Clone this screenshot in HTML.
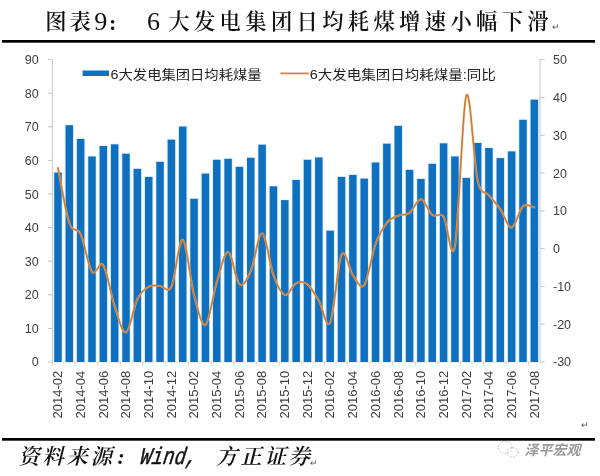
<!DOCTYPE html>
<html lang="zh-CN"><head><meta charset="utf-8"><title>图表9</title>
<style>html,body{margin:0;padding:0;background:#fff}svg{display:block}</style></head>
<body>
<svg width="600" height="476" viewBox="0 0 600 476">
<rect width="600" height="476" fill="#fff"/>
<rect x="2" y="40" width="593" height="2.7" fill="#000"/>
<rect x="2" y="438" width="593" height="2.7" fill="#000"/>
<text x="45.3" y="28.6" font-family='"Liberation Serif","Noto Serif CJK SC",serif' font-size="21.3" fill="#111" font-weight="600">图</text>
<text x="69.6" y="28.6" font-family='"Liberation Serif","Noto Serif CJK SC",serif' font-size="21.3" fill="#111" font-weight="600">表</text>
<text x="94.3" y="29.8" font-family='"Liberation Serif","Noto Serif CJK SC",serif' font-size="26" fill="#111">9</text>
<text x="109" y="29.6" font-family='"Liberation Serif","Noto Serif CJK SC",serif' font-size="22" fill="#111" font-weight="700">:</text>
<text x="147" y="29.8" font-family='"Liberation Serif","Noto Serif CJK SC",serif' font-size="26" fill="#111">6</text>
<text x="168.3 194.0 219.6 245.3 270.9 296.6 322.2 347.8 373.5 399.1 424.8 450.4 476.0 501.7 527.3" y="28.6" font-family='"Liberation Serif","Noto Serif CJK SC",serif' font-size="21.3" fill="#111" font-weight="600">大发电集团日均耗煤增速小幅下滑</text>
<text x="552" y="30" font-family='"Liberation Sans","Noto Sans CJK SC",sans-serif' font-size="9" fill="#555">↵</text>
<g stroke="#c6c6c6" stroke-width="1" fill="none">
<path d="M52.3 59.2V362.0"/>
<path d="M540.0 59.2V362.0"/>
<path d="M47.8 362.00H52.3"/>
<path d="M47.8 328.41H52.3"/>
<path d="M47.8 294.82H52.3"/>
<path d="M47.8 261.23H52.3"/>
<path d="M47.8 227.64H52.3"/>
<path d="M47.8 194.06H52.3"/>
<path d="M47.8 160.47H52.3"/>
<path d="M47.8 126.88H52.3"/>
<path d="M47.8 93.29H52.3"/>
<path d="M47.8 59.70H52.3"/>
<path d="M540.0 59.70H544.5"/>
<path d="M540.0 97.49H544.5"/>
<path d="M540.0 135.28H544.5"/>
<path d="M540.0 173.06H544.5"/>
<path d="M540.0 210.85H544.5"/>
<path d="M540.0 248.64H544.5"/>
<path d="M540.0 286.43H544.5"/>
<path d="M540.0 324.21H544.5"/>
<path d="M540.0 362.00H544.5"/>
</g>
<path d="M52.3 362.0H540.0" stroke="#e8dccf" stroke-width="1"/>
<g stroke="#f2c9a8" stroke-width="1">
<path d="M52.30 362.0V365.5"/>
<path d="M74.98 362.0V365.5"/>
<path d="M97.67 362.0V365.5"/>
<path d="M120.35 362.0V365.5"/>
<path d="M143.03 362.0V365.5"/>
<path d="M165.72 362.0V365.5"/>
<path d="M188.40 362.0V365.5"/>
<path d="M211.09 362.0V365.5"/>
<path d="M233.77 362.0V365.5"/>
<path d="M256.45 362.0V365.5"/>
<path d="M279.14 362.0V365.5"/>
<path d="M301.82 362.0V365.5"/>
<path d="M324.50 362.0V365.5"/>
<path d="M347.19 362.0V365.5"/>
<path d="M369.87 362.0V365.5"/>
<path d="M392.56 362.0V365.5"/>
<path d="M415.24 362.0V365.5"/>
<path d="M437.92 362.0V365.5"/>
<path d="M460.61 362.0V365.5"/>
<path d="M483.29 362.0V365.5"/>
<path d="M505.97 362.0V365.5"/>
<path d="M528.66 362.0V365.5"/>
</g>
<g font-family='"Liberation Sans","Noto Sans CJK SC",sans-serif' font-size="12.5" fill="#3e3e3e">
<text x="38.6" y="366.4" text-anchor="end">0</text>
<text x="38.6" y="332.8" text-anchor="end">10</text>
<text x="38.6" y="299.2" text-anchor="end">20</text>
<text x="38.6" y="265.6" text-anchor="end">30</text>
<text x="38.6" y="232.0" text-anchor="end">40</text>
<text x="38.6" y="198.5" text-anchor="end">50</text>
<text x="38.6" y="164.9" text-anchor="end">60</text>
<text x="38.6" y="131.3" text-anchor="end">70</text>
<text x="38.6" y="97.7" text-anchor="end">80</text>
<text x="38.6" y="64.1" text-anchor="end">90</text>
<text x="553" y="64.1">50</text>
<text x="553" y="101.9">40</text>
<text x="553" y="139.7">30</text>
<text x="553" y="177.5">20</text>
<text x="553" y="215.3">10</text>
<text x="553" y="253.0">0</text>
<text x="553" y="290.8">-10</text>
<text x="553" y="328.6">-20</text>
<text x="553" y="366.4">-30</text>
<text font-size="13" transform="translate(62.27 418.4) rotate(-90)">2014-02</text>
<text font-size="13" transform="translate(84.95 418.4) rotate(-90)">2014-04</text>
<text font-size="13" transform="translate(107.64 418.4) rotate(-90)">2014-06</text>
<text font-size="13" transform="translate(130.32 418.4) rotate(-90)">2014-08</text>
<text font-size="13" transform="translate(153.01 418.4) rotate(-90)">2014-10</text>
<text font-size="13" transform="translate(175.69 418.4) rotate(-90)">2014-12</text>
<text font-size="13" transform="translate(198.37 418.4) rotate(-90)">2015-02</text>
<text font-size="13" transform="translate(221.06 418.4) rotate(-90)">2015-04</text>
<text font-size="13" transform="translate(243.74 418.4) rotate(-90)">2015-06</text>
<text font-size="13" transform="translate(266.42 418.4) rotate(-90)">2015-08</text>
<text font-size="13" transform="translate(289.11 418.4) rotate(-90)">2015-10</text>
<text font-size="13" transform="translate(311.79 418.4) rotate(-90)">2015-12</text>
<text font-size="13" transform="translate(334.48 418.4) rotate(-90)">2016-02</text>
<text font-size="13" transform="translate(357.16 418.4) rotate(-90)">2016-04</text>
<text font-size="13" transform="translate(379.84 418.4) rotate(-90)">2016-06</text>
<text font-size="13" transform="translate(402.53 418.4) rotate(-90)">2016-08</text>
<text font-size="13" transform="translate(425.21 418.4) rotate(-90)">2016-10</text>
<text font-size="13" transform="translate(447.89 418.4) rotate(-90)">2016-12</text>
<text font-size="13" transform="translate(470.58 418.4) rotate(-90)">2017-02</text>
<text font-size="13" transform="translate(493.26 418.4) rotate(-90)">2017-04</text>
<text font-size="13" transform="translate(515.95 418.4) rotate(-90)">2017-06</text>
<text font-size="13" transform="translate(538.63 418.4) rotate(-90)">2017-08</text>
</g>
<g fill="#d9ecfb" fill-opacity="0.75">
<rect x="53.12" y="171.76" width="9.7" height="190.24"/>
<rect x="64.46" y="124.40" width="9.7" height="237.60"/>
<rect x="75.80" y="138.17" width="9.7" height="223.83"/>
<rect x="87.15" y="155.64" width="9.7" height="206.36"/>
<rect x="98.49" y="145.22" width="9.7" height="216.78"/>
<rect x="109.83" y="143.54" width="9.7" height="218.46"/>
<rect x="121.17" y="152.95" width="9.7" height="209.05"/>
<rect x="132.51" y="168.06" width="9.7" height="193.94"/>
<rect x="143.86" y="176.13" width="9.7" height="185.87"/>
<rect x="155.20" y="161.01" width="9.7" height="200.99"/>
<rect x="166.54" y="138.84" width="9.7" height="223.16"/>
<rect x="177.88" y="125.74" width="9.7" height="236.26"/>
<rect x="189.22" y="197.96" width="9.7" height="164.04"/>
<rect x="200.57" y="172.77" width="9.7" height="189.23"/>
<rect x="211.91" y="158.99" width="9.7" height="203.01"/>
<rect x="223.25" y="157.99" width="9.7" height="204.01"/>
<rect x="234.59" y="166.05" width="9.7" height="195.95"/>
<rect x="245.93" y="156.98" width="9.7" height="205.02"/>
<rect x="257.27" y="143.88" width="9.7" height="218.12"/>
<rect x="268.62" y="185.53" width="9.7" height="176.47"/>
<rect x="279.96" y="199.30" width="9.7" height="162.70"/>
<rect x="291.30" y="179.15" width="9.7" height="182.85"/>
<rect x="302.64" y="158.99" width="9.7" height="203.01"/>
<rect x="313.98" y="156.64" width="9.7" height="205.36"/>
<rect x="325.33" y="229.87" width="9.7" height="132.13"/>
<rect x="336.67" y="176.13" width="9.7" height="185.87"/>
<rect x="348.01" y="174.11" width="9.7" height="187.89"/>
<rect x="359.35" y="177.80" width="9.7" height="184.20"/>
<rect x="370.69" y="161.68" width="9.7" height="200.32"/>
<rect x="382.03" y="142.87" width="9.7" height="219.13"/>
<rect x="393.38" y="125.07" width="9.7" height="236.93"/>
<rect x="404.72" y="169.07" width="9.7" height="192.93"/>
<rect x="416.06" y="178.14" width="9.7" height="183.86"/>
<rect x="427.40" y="163.03" width="9.7" height="198.97"/>
<rect x="438.74" y="142.54" width="9.7" height="219.46"/>
<rect x="450.09" y="155.64" width="9.7" height="206.36"/>
<rect x="461.43" y="177.13" width="9.7" height="184.87"/>
<rect x="472.77" y="142.20" width="9.7" height="219.80"/>
<rect x="484.11" y="147.24" width="9.7" height="214.76"/>
<rect x="495.45" y="157.32" width="9.7" height="204.68"/>
<rect x="506.80" y="150.60" width="9.7" height="211.40"/>
<rect x="518.14" y="119.02" width="9.7" height="242.98"/>
<rect x="529.48" y="98.87" width="9.7" height="263.13"/>
</g>
<g fill="#1070c0">
<rect x="54.22" y="172.56" width="7.5" height="189.44"/>
<rect x="65.56" y="125.20" width="7.5" height="236.80"/>
<rect x="76.90" y="138.97" width="7.5" height="223.03"/>
<rect x="88.25" y="156.44" width="7.5" height="205.56"/>
<rect x="99.59" y="146.02" width="7.5" height="215.98"/>
<rect x="110.93" y="144.34" width="7.5" height="217.66"/>
<rect x="122.27" y="153.75" width="7.5" height="208.25"/>
<rect x="133.61" y="168.86" width="7.5" height="193.14"/>
<rect x="144.96" y="176.93" width="7.5" height="185.07"/>
<rect x="156.30" y="161.81" width="7.5" height="200.19"/>
<rect x="167.64" y="139.64" width="7.5" height="222.36"/>
<rect x="178.98" y="126.54" width="7.5" height="235.46"/>
<rect x="190.32" y="198.76" width="7.5" height="163.24"/>
<rect x="201.67" y="173.57" width="7.5" height="188.43"/>
<rect x="213.01" y="159.79" width="7.5" height="202.21"/>
<rect x="224.35" y="158.79" width="7.5" height="203.21"/>
<rect x="235.69" y="166.85" width="7.5" height="195.15"/>
<rect x="247.03" y="157.78" width="7.5" height="204.22"/>
<rect x="258.37" y="144.68" width="7.5" height="217.32"/>
<rect x="269.72" y="186.33" width="7.5" height="175.67"/>
<rect x="281.06" y="200.10" width="7.5" height="161.90"/>
<rect x="292.40" y="179.95" width="7.5" height="182.05"/>
<rect x="303.74" y="159.79" width="7.5" height="202.21"/>
<rect x="315.08" y="157.44" width="7.5" height="204.56"/>
<rect x="326.43" y="230.67" width="7.5" height="131.33"/>
<rect x="337.77" y="176.93" width="7.5" height="185.07"/>
<rect x="349.11" y="174.91" width="7.5" height="187.09"/>
<rect x="360.45" y="178.60" width="7.5" height="183.40"/>
<rect x="371.79" y="162.48" width="7.5" height="199.52"/>
<rect x="383.13" y="143.67" width="7.5" height="218.33"/>
<rect x="394.48" y="125.87" width="7.5" height="236.13"/>
<rect x="405.82" y="169.87" width="7.5" height="192.13"/>
<rect x="417.16" y="178.94" width="7.5" height="183.06"/>
<rect x="428.50" y="163.83" width="7.5" height="198.17"/>
<rect x="439.84" y="143.34" width="7.5" height="218.66"/>
<rect x="451.19" y="156.44" width="7.5" height="205.56"/>
<rect x="462.53" y="177.93" width="7.5" height="184.07"/>
<rect x="473.87" y="143.00" width="7.5" height="219.00"/>
<rect x="485.21" y="148.04" width="7.5" height="213.96"/>
<rect x="496.55" y="158.12" width="7.5" height="203.88"/>
<rect x="507.90" y="151.40" width="7.5" height="210.60"/>
<rect x="519.24" y="119.82" width="7.5" height="242.18"/>
<rect x="530.58" y="99.67" width="7.5" height="262.33"/>
</g>
<path d="M57.97 168.00C59.86 177.17 65.53 211.98 69.31 223.00C73.09 234.02 76.87 225.97 80.65 234.10C84.44 242.23 88.22 266.60 92.00 271.80C95.78 277.00 99.56 259.53 103.34 265.30C107.12 271.07 110.90 295.20 114.68 306.40C118.46 317.60 122.24 333.68 126.02 332.50C129.80 331.32 133.58 306.95 137.36 299.30C141.14 291.65 144.93 288.82 148.71 286.60C152.49 284.38 156.27 286.00 160.05 286.00C163.83 286.00 167.61 294.30 171.39 286.60C175.17 278.90 178.95 238.38 182.73 239.80C186.51 241.22 190.29 280.92 194.07 295.10C197.85 309.28 201.63 327.03 205.42 324.90C209.20 322.77 212.98 294.45 216.76 282.30C220.54 270.15 224.32 251.67 228.10 252.00C231.88 252.33 235.66 281.13 239.44 284.30C243.22 287.47 247.00 279.50 250.78 271.00C254.56 262.50 258.34 232.60 262.12 233.30C265.91 234.00 269.69 264.90 273.47 275.20C277.25 285.50 281.03 293.77 284.81 295.10C288.59 296.43 292.37 285.00 296.15 283.20C299.93 281.40 303.71 281.37 307.49 284.30C311.27 287.23 315.05 294.43 318.83 300.80C322.61 307.17 326.39 330.17 330.18 322.50C333.96 314.83 337.74 262.68 341.52 254.80C345.30 246.92 349.08 270.13 352.86 275.20C356.64 280.27 360.42 290.40 364.20 285.20C367.98 280.00 371.76 254.40 375.54 244.00C379.32 233.60 383.10 227.52 386.88 222.80C390.67 218.08 394.45 217.37 398.23 215.70C402.01 214.03 405.79 215.57 409.57 212.80C413.35 210.03 417.13 198.73 420.91 199.10C424.69 199.47 428.47 212.07 432.25 215.00C436.03 217.93 439.81 211.53 443.59 216.70C447.37 221.87 451.16 266.20 454.94 246.00C458.72 225.80 462.50 106.47 466.28 95.50C470.06 84.53 473.84 163.57 477.62 180.20C481.40 196.83 485.18 190.47 488.96 195.30C492.74 200.13 496.52 203.82 500.30 209.20C504.08 214.58 507.86 228.08 511.65 227.60C515.43 227.12 519.21 209.67 522.99 206.30C526.77 202.93 532.44 207.22 534.33 207.40" fill="none" stroke="#ee9a4c" stroke-width="2.1" stroke-linejoin="round" stroke-linecap="round"/>
<path d="M57.97 168.00C59.86 177.17 65.53 211.98 69.31 223.00C73.09 234.02 76.87 225.97 80.65 234.10C84.44 242.23 88.22 266.60 92.00 271.80C95.78 277.00 99.56 259.53 103.34 265.30C107.12 271.07 110.90 295.20 114.68 306.40C118.46 317.60 122.24 333.68 126.02 332.50C129.80 331.32 133.58 306.95 137.36 299.30C141.14 291.65 144.93 288.82 148.71 286.60C152.49 284.38 156.27 286.00 160.05 286.00C163.83 286.00 167.61 294.30 171.39 286.60C175.17 278.90 178.95 238.38 182.73 239.80C186.51 241.22 190.29 280.92 194.07 295.10C197.85 309.28 201.63 327.03 205.42 324.90C209.20 322.77 212.98 294.45 216.76 282.30C220.54 270.15 224.32 251.67 228.10 252.00C231.88 252.33 235.66 281.13 239.44 284.30C243.22 287.47 247.00 279.50 250.78 271.00C254.56 262.50 258.34 232.60 262.12 233.30C265.91 234.00 269.69 264.90 273.47 275.20C277.25 285.50 281.03 293.77 284.81 295.10C288.59 296.43 292.37 285.00 296.15 283.20C299.93 281.40 303.71 281.37 307.49 284.30C311.27 287.23 315.05 294.43 318.83 300.80C322.61 307.17 326.39 330.17 330.18 322.50C333.96 314.83 337.74 262.68 341.52 254.80C345.30 246.92 349.08 270.13 352.86 275.20C356.64 280.27 360.42 290.40 364.20 285.20C367.98 280.00 371.76 254.40 375.54 244.00C379.32 233.60 383.10 227.52 386.88 222.80C390.67 218.08 394.45 217.37 398.23 215.70C402.01 214.03 405.79 215.57 409.57 212.80C413.35 210.03 417.13 198.73 420.91 199.10C424.69 199.47 428.47 212.07 432.25 215.00C436.03 217.93 439.81 211.53 443.59 216.70C447.37 221.87 451.16 266.20 454.94 246.00C458.72 225.80 462.50 106.47 466.28 95.50C470.06 84.53 473.84 163.57 477.62 180.20C481.40 196.83 485.18 190.47 488.96 195.30C492.74 200.13 496.52 203.82 500.30 209.20C504.08 214.58 507.86 228.08 511.65 227.60C515.43 227.12 519.21 209.67 522.99 206.30C526.77 202.93 532.44 207.22 534.33 207.40" fill="none" stroke="#a06a38" stroke-width="0.8" stroke-opacity="0.85" stroke-linejoin="round" stroke-linecap="round"/>
<rect x="82.6" y="70.5" width="26.4" height="5.5" fill="#1070c0"/>
<text x="110.6" y="79" font-family='"Liberation Sans","Noto Sans CJK SC",sans-serif' font-size="13" fill="#222" textLength="151" lengthAdjust="spacingAndGlyphs">6大发电集团日均耗煤量</text>
<path d="M280.4 73.4H309" stroke="#d9823a" stroke-width="1.8"/>
<text x="309.8" y="79" font-family='"Liberation Sans","Noto Sans CJK SC",sans-serif' font-size="13" fill="#222" textLength="186" lengthAdjust="spacingAndGlyphs">6大发电集团日均耗煤量:同比</text>
<text x="581" y="428" font-family='"Liberation Sans","Noto Sans CJK SC",sans-serif' font-size="9" fill="#555">↵</text>
<text x="18.2 42.2 66.2 90.4 117.6" y="464.3" font-family='"Liberation Serif","Noto Serif CJK SC",serif' font-size="21.5" font-style="italic" fill="#111" font-weight="600">资料来源:</text>
<text transform="translate(139.5 464) skewX(-9)" font-family='"Liberation Mono","Noto Serif CJK SC",monospace' font-size="24" font-style="italic" fill="#111" stroke="#111" stroke-width="0.45" textLength="57" lengthAdjust="spacingAndGlyphs">Wind,</text>
<text x="216 240.2 264.4 288.6" y="464" font-family='"Liberation Serif","Noto Serif CJK SC",serif' font-size="21.5" font-style="italic" fill="#111" font-weight="600">方正证券</text>
<text x="310" y="466" font-family='"Liberation Sans","Noto Sans CJK SC",sans-serif' font-size="9" fill="#555">↵</text>
<g fill="none" stroke="#b5b5b5" stroke-width="1" stroke-dasharray="1.5 1.5"><ellipse cx="505" cy="447.5" rx="7" ry="6"/><ellipse cx="512.5" cy="452.5" rx="5.5" ry="4.8"/></g>
<text x="524.5" y="454.6" font-family='"Liberation Sans","Noto Sans CJK SC",sans-serif' font-size="14" font-style="italic" font-weight="700" fill="#9a9a9a" stroke="#fff" stroke-width="0.6" paint-order="stroke" textLength="56" lengthAdjust="spacingAndGlyphs">泽平宏观</text>
</svg>
</body></html>
